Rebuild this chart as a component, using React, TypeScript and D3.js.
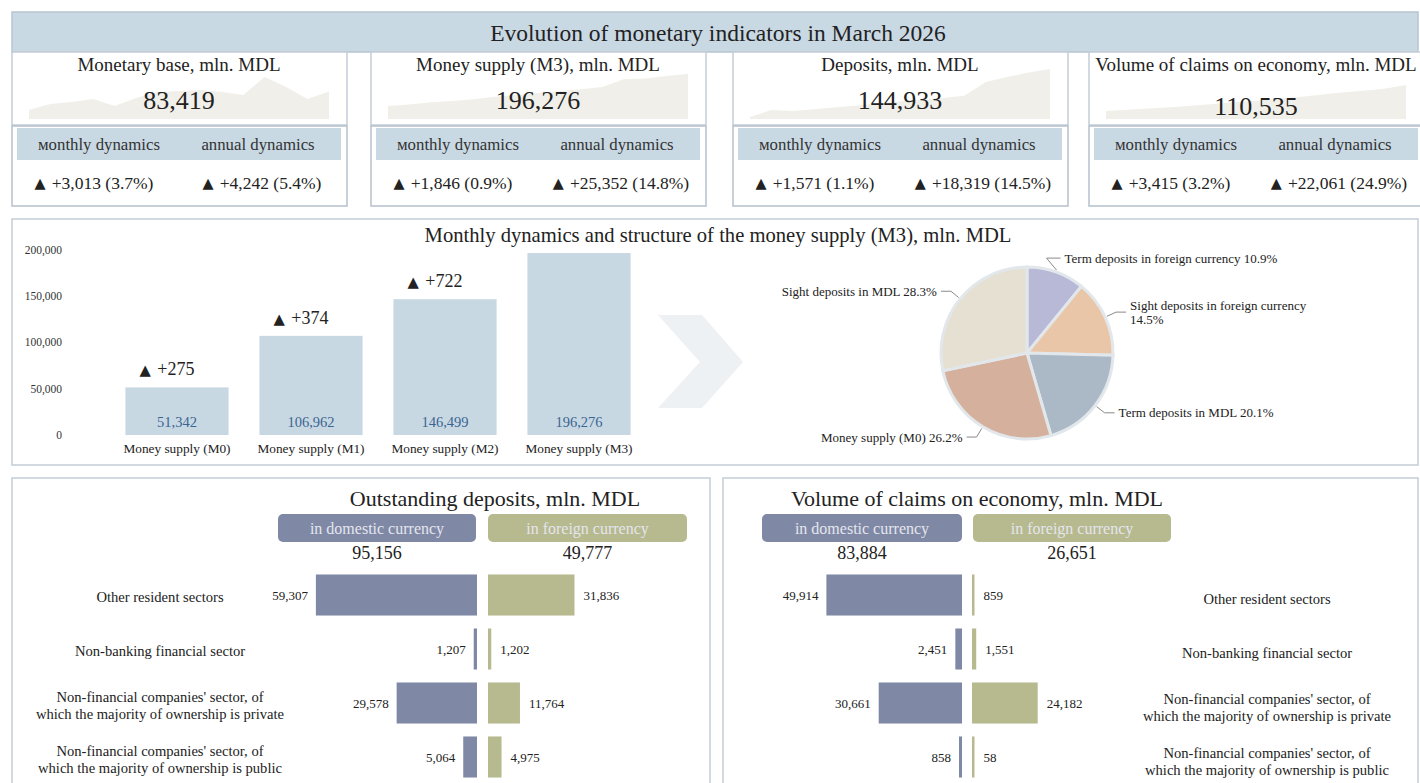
import React from 'react';
import * as d3 from 'd3';

// ---- data ----
const months = ['Jan 2025', 'Feb 2025', 'Mar 2025', 'Apr 2025', 'May 2025', 'Jun 2025', 'Jul 2025', 'Aug 2025', 'Sep 2025', 'Oct 2025', 'Nov 2025', 'Dec 2025', 'Jan 2026', 'Feb 2026', 'Mar 2026'];
const monetaryBase = [76000, 78400, 79177, 80400, 77600, 80800, 83200, 83600, 84000, 83200, 82000, 89200, 85200, 80406, 83419];
const moneySupply = [167500, 168900, 170924, 172000, 173500, 175800, 177400, 179200, 180800, 182500, 184600, 191500, 192300, 194430, 196276];
const depositsSeries = [124000, 127000, 126614, 127400, 128200, 129000, 129900, 130700, 131500, 132300, 133200, 139300, 141400, 143362, 144933];
const claimsSeries = [86200, 87300, 88474, 89700, 91100, 92700, 94300, 95900, 97600, 99400, 101300, 103500, 105200, 107120, 110535];

const kpiTitles = ['Monetary base, mln. MDL', 'Money supply (M3), mln. MDL', 'Deposits, mln. MDL', 'Volume of claims on economy, mln. MDL'];
const kpiValues = [83419, 196276, 144933, 110535];
const monthlyAbs = [3013, 1846, 1571, 3415];
const monthlyPct = [3.7, 0.9, 1.1, 3.2];
const annualAbs = [4242, 25352, 18319, 22061];
const annualPct = [5.4, 14.8, 14.5, 24.9];

const aggregates = ['Money supply (M0)', 'Money supply (M1)', 'Money supply (M2)', 'Money supply (M3)'];
const aggregateValues = [51342, 106962, 146499, 196276];
const aggregateChanges = [275, 374, 722, null];
const yTicks = [0, 50000, 100000, 150000, 200000];

const structureLabels = ['Term deposits in foreign currency', 'Sight deposits in foreign currency', 'Term deposits in MDL', 'Money supply (M0)', 'Sight deposits in MDL'];
const structureShares = [10.9, 14.5, 20.1, 26.2, 28.3];

const sectors = ['Other resident sectors', 'Non-banking financial sector', "Non-financial companies' sector, of which the majority of ownership is private", "Non-financial companies' sector, of which the majority of ownership is public"];
const depositsDomestic = [59307, 1207, 29578, 5064];
const depositsForeign = [31836, 1202, 11764, 4975];
const depositTotals = [95156, 49777];
const claimsDomestic = [49914, 2451, 30661, 858];
const claimsForeign = [859, 1551, 24182, 58];
const claimTotals = [83884, 26651];

// ---- layout / style ----
const FONT = "'Liberation Serif', 'Times New Roman', serif";
const TRI_FONT = "'DejaVu Sans', sans-serif";
const BLUE_BAND = '#c9d9e4';
const BORDER = '#c3cdd6';
const DOM = '#7f88a5';
const FOR = '#b7b98e';
const fmt = d3.format(',');

const sparkSeries = [monetaryBase, moneySupply, depositsSeries, claimsSeries];
const cardX = [12, 371, 733, 1089];
const sparkTop = [77, 74, 69, 85];
const sparkFloor = [72400, 155800, 123100, 78700];
const pieColors = ['#b8b9d7', '#eac6a9', '#aab9c5', '#d5b19d', '#e5e0d1'];

function Delta({ x, y, text, size }: { x: number; y: number; text: string; size: number }) {
  return (
    <text x={x} y={y} fontSize={size} textAnchor="middle" dominantBaseline="central" fill="#222">
      <tspan fontFamily={TRI_FONT} fontSize={size * 0.82}>▲</tspan>
      <tspan dx={size * 0.35}>{text}</tspan>
    </text>
  );
}

function KpiCard({ i }: { i: number }) {
  const x0 = cardX[i];
  const series = sparkSeries[i];
  const xs = d3.scaleLinear().domain([0, months.length - 1]).range([x0 + 17, x0 + 317]);
  const ys = d3.scaleLinear().domain([sparkFloor[i], d3.max(series) as number]).range([119, sparkTop[i]]);
  const area = d3.area<number>().x((_, j) => xs(j)).y0(119).y1((d) => ys(d));
  const numY = i === 3 ? 106 : 100;
  return (
    <g>
      <rect x={x0} y={52} width={335} height={73} fill="#fff" stroke={BORDER} strokeWidth={1.5} />
      <path d={area(series) || ''} fill="#f1efe9" />
      <text x={x0 + 167} y={64} fontSize={19} textAnchor="middle" dominantBaseline="central" fill="#222">{kpiTitles[i]}</text>
      <text x={x0 + 167} y={numY} fontSize={26} textAnchor="middle" dominantBaseline="central" fill="#222">{fmt(kpiValues[i])}</text>
      <rect x={x0} y={126} width={335} height={80} fill="#fff" stroke="#b5c1cc" strokeWidth={1.5} />
      <rect x={x0 + 5} y={128} width={324} height={32} fill={BLUE_BAND} />
      <text x={x0 + 87} y={144} fontSize={16.8} textAnchor="middle" dominantBaseline="central" fill="#333">мonthly dynamics</text>
      <text x={x0 + 246} y={144} fontSize={16.8} textAnchor="middle" dominantBaseline="central" fill="#333">annual dynamics</text>
      <Delta x={x0 + 82} y={183} size={17.5} text={`+${fmt(monthlyAbs[i])} (${monthlyPct[i].toFixed(1)}%)`} />
      <Delta x={x0 + 250} y={183} size={17.5} text={`+${fmt(annualAbs[i])} (${annualPct[i].toFixed(1)}%)`} />
    </g>
  );
}

function MoneyBars() {
  const x = d3.scaleBand<string>().domain(aggregates).range([110, 646]).paddingInner(0.23).paddingOuter(0.115);
  const y = d3.scaleLinear().domain([0, 200000]).range([435, 249.6]);
  return (
    <g>
      {yTicks.map((t) => (
        <text key={t} x={62} y={y(t)} fontSize={11.5} textAnchor="end" dominantBaseline="central" fill="#333">{fmt(t)}</text>
      ))}
      {aggregates.map((a, i) => {
        const bx = x(a) as number;
        const bw = x.bandwidth();
        const ch = aggregateChanges[i];
        return (
          <g key={a}>
            <rect x={bx} y={y(aggregateValues[i])} width={bw} height={y(0) - y(aggregateValues[i])} fill="#c8d8e3" />
            <text x={bx + bw / 2} y={422} fontSize={14.5} textAnchor="middle" dominantBaseline="central" fill="#3a6591">{fmt(aggregateValues[i])}</text>
            <text x={bx + bw / 2} y={448} fontSize={13.3} textAnchor="middle" dominantBaseline="central" fill="#222">{a}</text>
            {ch !== null && (
              <Delta x={bx + bw / 2 - 10} y={y(aggregateValues[i]) - 18} size={18} text={`+${fmt(ch)}`} />
            )}
          </g>
        );
      })}
    </g>
  );
}

function StructurePie() {
  const cx = 1027, cy = 353, r = 86;
  const pie = d3.pie<number>().sort(null).value((d) => d)(structureShares);
  const arc = d3.arc<d3.PieArcDatum<number>>().innerRadius(0).outerRadius(r);
  const at = (a: number, rr: number) => [cx + Math.sin(a) * rr, cy - Math.cos(a) * rr];
  return (
    <g>
      <g transform={`translate(${cx},${cy})`}>
        {pie.map((s, i) => (
          <path key={i} d={arc(s) || ''} fill={pieColors[i]} stroke="#e2e7eb" strokeWidth={3} />
        ))}
      </g>
      {pie.map((s, i) => {
        const mid = (s.startAngle + s.endAngle) / 2;
        const right = Math.sin(mid) > 0;
        const top = i === 0;
        const p1 = at(mid, r + 2);
        const p2 = top ? [p1[0] - 10, p1[1] - 12] : at(mid, r + 12);
        const p3 = [p2[0] + (right ? (top ? 14 : 10) : -10), p2[1]];
        const tx = p3[0] + (right ? 4 : -4);
        const lines = i === 1 ? [structureLabels[i], `${structureShares[i]}%`] : [`${structureLabels[i]} ${structureShares[i]}%`];
        return (
          <g key={'l' + i}>
            <polyline points={[p1, p2, p3].map((p) => p.join(',')).join(' ')} fill="none" stroke="#8a8a8a" strokeWidth={1} />
            {lines.map((ln, k) => (
              <text key={k} x={tx} y={p3[1] + (lines.length > 1 ? (k - 0.5) * 14 : 0)} fontSize={13} textAnchor={right ? 'start' : 'end'} dominantBaseline="central" fill="#222">{ln}</text>
            ))}
          </g>
        );
      })}
    </g>
  );
}

function wrapSector(s: string) {
  const k = s.indexOf(', of ');
  return k < 0 ? [s] : [s.slice(0, k + 4), s.slice(k + 5)];
}

type PanelProps = {
  title: string; titleX: number; domRight: number; forLeft: number; labelX: number; labelDy: number;
  domestic: number[]; foreign: number[]; totals: number[]; pillDom: number[]; pillFor: number[];
};

function SectorPanel(p: PanelProps) {
  const y = d3.scaleBand<string>().domain(sectors).range([568, 784]).paddingInner(0.24).paddingOuter(0.12);
  const w = d3.scaleLinear().domain([0, 60000]).range([0, 163]);
  const pills = [
    { r: p.pillDom, fill: DOM, text: 'in domestic currency', total: p.totals[0] },
    { r: p.pillFor, fill: FOR, text: 'in foreign currency', total: p.totals[1] },
  ];
  return (
    <g>
      <text x={p.titleX} y={498} fontSize={22} textAnchor="middle" dominantBaseline="central" fill="#222">{p.title}</text>
      {pills.map((pl) => (
        <g key={pl.text}>
          <rect x={pl.r[0]} y={514} width={pl.r[1] - pl.r[0]} height={28} rx={5} fill={pl.fill} />
          <text x={(pl.r[0] + pl.r[1]) / 2} y={528.5} fontSize={16} textAnchor="middle" dominantBaseline="central" fill="#e4e6ee">{pl.text}</text>
          <text x={(pl.r[0] + pl.r[1]) / 2} y={553} fontSize={18} textAnchor="middle" dominantBaseline="central" fill="#222">{fmt(pl.total)}</text>
        </g>
      ))}
      {sectors.map((s, i) => {
        const by = y(s) as number;
        const bh = y.bandwidth();
        const dw = Math.max(w(p.domestic[i]), 3);
        const fw = Math.max(w(p.foreign[i]), 2.5);
        const lines = wrapSector(s);
        const cy = by + bh / 2;
        return (
          <g key={s}>
            <rect x={p.domRight - dw} y={by} width={dw} height={bh} fill={DOM} />
            <rect x={p.forLeft} y={by} width={fw} height={bh} fill={FOR} />
            <text x={p.domRight - dw - 8} y={cy} fontSize={13} textAnchor="end" dominantBaseline="central" fill="#222">{fmt(p.domestic[i])}</text>
            <text x={p.forLeft + fw + 9} y={cy} fontSize={13} textAnchor="start" dominantBaseline="central" fill="#222">{fmt(p.foreign[i])}</text>
            {lines.map((ln, k) => (
              <text key={k} x={p.labelX} y={cy + p.labelDy + (lines.length > 1 ? (k - 0.5) * 17 : 0)} fontSize={14.6} textAnchor="middle" dominantBaseline="central" fill="#222">{ln}</text>
            ))}
          </g>
        );
      })}
    </g>
  );
}

export default function App() {
  return (
    <svg width={1420} height={783} style={{ position: 'absolute', left: 0, top: 0, background: '#fff' }} fontFamily={FONT}>
      {/* banner */}
      <rect x={12} y={12} width={1406} height={40} fill={BLUE_BAND} stroke="#b6c5d1" strokeWidth={1.5} />
      <text x={718} y={33} fontSize={23.5} textAnchor="middle" dominantBaseline="central" fill="#222">Evolution of monetary indicators in March 2026</text>
      {[0, 1, 2, 3].map((i) => <KpiCard key={i} i={i} />)}

      {/* middle panel */}
      <rect x={12} y={219} width={1406} height={246} fill="#fff" stroke={BORDER} strokeWidth={1.5} />
      <text x={718} y={235} fontSize={20.6} textAnchor="middle" dominantBaseline="central" fill="#222">Monthly dynamics and structure of the money supply (M3), mln. MDL</text>
      <MoneyBars />
      <polygon points="658,315 702,315 743,362 702,408 658,408 700,362" fill="#edf1f4" />
      <StructurePie />

      {/* bottom panels */}
      <rect x={12} y={478} width={698} height={330} fill="#fff" stroke={BORDER} strokeWidth={1.5} />
      <rect x={723} y={478} width={695} height={330} fill="#fff" stroke={BORDER} strokeWidth={1.5} />
      <SectorPanel title="Outstanding deposits, mln. MDL" titleX={495} domRight={477} forLeft={488} labelX={160} labelDy={2}
        domestic={depositsDomestic} foreign={depositsForeign} totals={depositTotals} pillDom={[278, 476]} pillFor={[488, 687]} />
      <SectorPanel title="Volume of claims on economy, mln. MDL" titleX={977} domRight={962} forLeft={972} labelX={1267} labelDy={4}
        domestic={claimsDomestic} foreign={claimsForeign} totals={claimTotals} pillDom={[762, 962]} pillFor={[973, 1171]} />
    </svg>
  );
}
